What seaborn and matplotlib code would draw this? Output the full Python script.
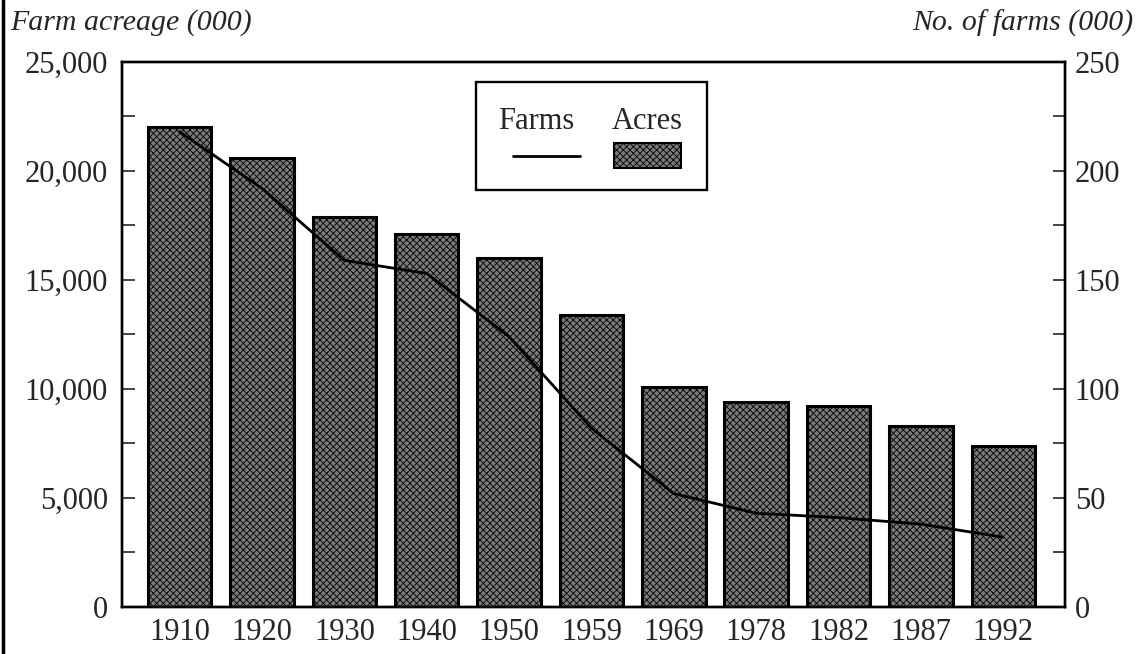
import numpy as np
import pandas as pd
import matplotlib
matplotlib.use("Agg")
import matplotlib.pyplot as plt
from matplotlib.lines import Line2D
from matplotlib.patches import Rectangle
from matplotlib.ticker import MultipleLocator, FuncFormatter
import seaborn as sns

# data
years = ["1910", "1920", "1930", "1940", "1950", "1959", "1969", "1978", "1982", "1987", "1992"]
acres = [22000, 20600, 17900, 17100, 16000, 13400, 10100, 9400, 9200, 8300, 7400]   # thousand acres
farms = [218, 192, 159, 153, 124, 82, 52, 43, 41, 38, 32]                           # thousand farms

sns.set_style("ticks")
plt.rcParams["font.family"] = ["Liberation Serif", "DejaVu Serif"]
plt.rcParams["hatch.linewidth"] = 0.6
plt.rcParams["hatch.color"] = "black"

df = pd.DataFrame({"year": years, "acres": acres, "farms": farms, "pos": np.arange(len(years))})

fig = plt.figure(figsize=(11.37, 6.54), dpi=100)
ax = fig.add_axes([0.1073, 0.0719, 0.8294, 0.8333])

sns.barplot(data=df, x="year", y="acres", ax=ax, color="#7a7a7a", width=0.77,
            edgecolor="black", linewidth=2.2, saturation=1)
for p in ax.patches:
    p.set_hatch("xxxxx")

ax.set_xlim(-0.70, 10.75)
ax.set_ylim(0, 25000)
ax.yaxis.set_major_locator(MultipleLocator(5000))
ax.yaxis.set_minor_locator(MultipleLocator(2500))
ax.yaxis.set_major_formatter(FuncFormatter(lambda v, _: f"{int(v):,}"))
ax.tick_params(axis="y", which="both", direction="in", length=9, width=1.2, labelsize=22, pad=10)
ax.tick_params(axis="x", length=0, labelsize=22, pad=8)
ax.set_xlabel("")
ax.set_ylabel("")

ax2 = ax.twinx()
sns.lineplot(data=df, x="pos", y="farms", ax=ax2, color="black", linewidth=2)
ax2.set_ylim(0, 250)
ax2.yaxis.set_major_locator(MultipleLocator(50))
ax2.yaxis.set_minor_locator(MultipleLocator(25))
ax2.tick_params(axis="y", which="both", direction="in", length=9, width=1.2, labelsize=22, pad=7)
ax2.set_ylabel("")
ax2.set_xlim(-0.70, 10.75)

for a in (ax, ax2):
    for s in a.spines.values():
        s.set_visible(True)
        s.set_linewidth(1.7)
        s.set_color("black")

# legend drawn as in the original: labels on top, keys below
box = Rectangle((0.375, 0.765), 0.245, 0.198, transform=ax.transAxes, fill=True,
                facecolor="white", edgecolor="black", linewidth=1.7, zorder=5)
ax2.add_patch(box)
ax2.text(0.439, 0.890, "Farms", transform=ax.transAxes, ha="center", va="center",
         fontsize=22, zorder=6)
ax2.text(0.557, 0.890, "Acres", transform=ax.transAxes, ha="center", va="center",
         fontsize=22, zorder=6)
ax2.add_line(Line2D([0.415, 0.486], [0.828, 0.828], transform=ax.transAxes,
                    color="black", linewidth=2, zorder=6))
ax2.add_patch(Rectangle((0.522, 0.806), 0.071, 0.045, transform=ax.transAxes,
                        facecolor="#7a7a7a", edgecolor="black", linewidth=1.5,
                        hatch="xxxxx", zorder=6))

fig.text(0.009, 0.965, "Farm acreage (000)", style="italic", fontsize=21.5, ha="left", va="center")
fig.text(0.997, 0.965, "No. of farms (000)", style="italic", fontsize=21.5, ha="right", va="center")
fig.add_artist(Line2D([0.003, 0.003], [0, 1], transform=fig.transFigure, color="black", linewidth=2.5))

fig.savefig("out.png", dpi=100)
